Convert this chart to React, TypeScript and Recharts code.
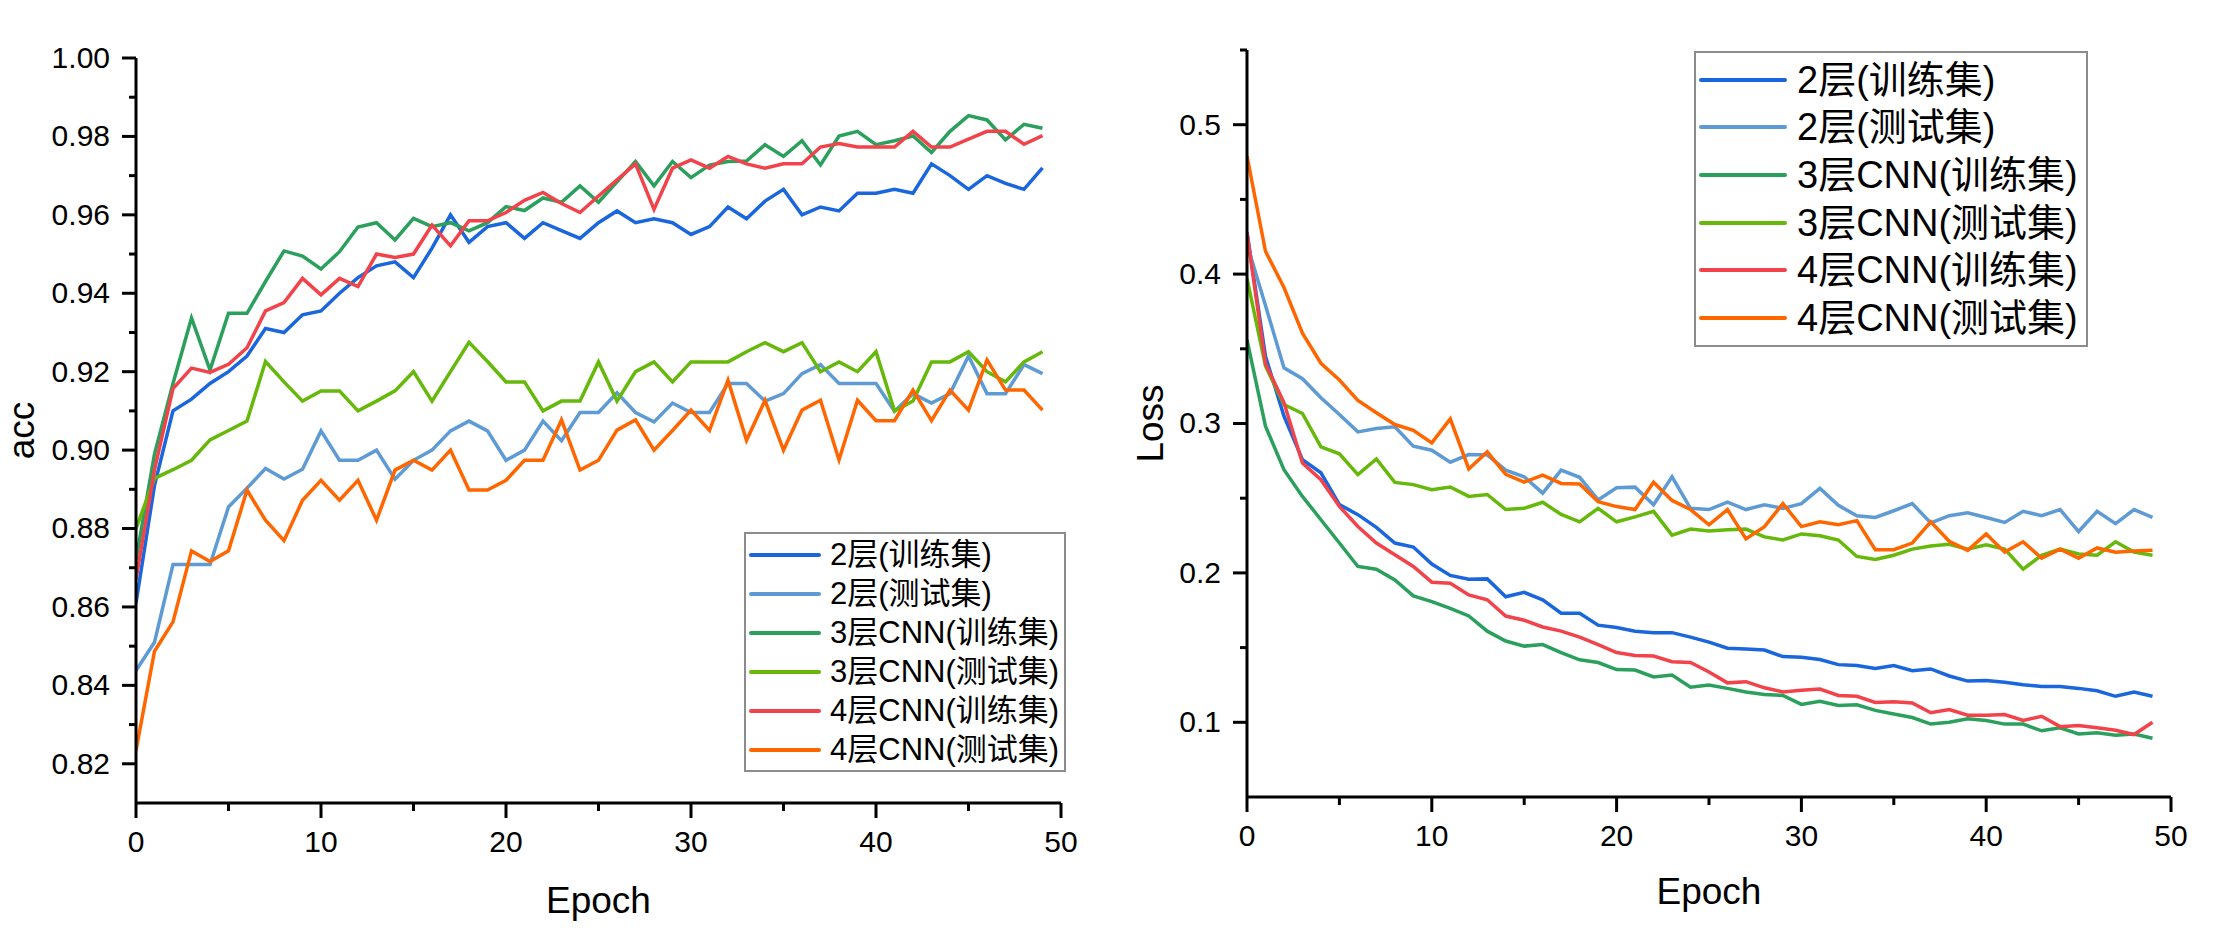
import React from "react";
import { LineChart, Line, XAxis, YAxis, Legend, Label } from "recharts";

const FONT = '"Liberation Sans", Arial, "Noto Sans CJK SC", sans-serif';

// epochs 0..49
const epochs = [
  0, 1, 2, 3, 4, 5, 6, 7, 8, 9, 10, 11, 12, 13, 14, 15, 16, 17, 18, 19, 20, 21, 22, 23, 24,
  25, 26, 27, 28, 29, 30, 31, 32, 33, 34, 35, 36, 37, 38, 39, 40, 41, 42, 43, 44, 45, 46, 47, 48, 49,
];

const seriesNames = [
  "2层(训练集)",
  "2层(测试集)",
  "3层CNN(训练集)",
  "3层CNN(测试集)",
  "4层CNN(训练集)",
  "4层CNN(测试集)",
];
const seriesKeys = ["l2train", "l2test", "c3train", "c3test", "c4train", "c4test"];
const seriesColors = ["#1a66dd", "#5e9bd4", "#2aa05c", "#66b80a", "#f2434a", "#ff6600"];

// accuracy per epoch
const acc2Train = [
  0.861, 0.891, 0.91, 0.913, 0.917, 0.92, 0.924, 0.931, 0.93, 0.9345, 0.9355, 0.94, 0.944, 0.947,
  0.948, 0.944, 0.9515, 0.96, 0.953, 0.957, 0.958, 0.954, 0.958, 0.956, 0.954, 0.958, 0.961, 0.958,
  0.959, 0.958, 0.955, 0.957, 0.962, 0.959, 0.9635, 0.9665, 0.96, 0.962, 0.961, 0.9655, 0.9655,
  0.9665, 0.9655, 0.973, 0.97, 0.9665, 0.97, 0.968, 0.9665, 0.972,
];
const acc2Test = [
  0.8438, 0.851, 0.8708, 0.8708, 0.8708, 0.8855, 0.8903, 0.8953, 0.8926, 0.8951, 0.9049, 0.8974,
  0.8974, 0.9, 0.8926, 0.8974, 0.9, 0.9049, 0.9074, 0.9049, 0.8974, 0.9, 0.9074, 0.9024, 0.9096,
  0.9096, 0.9146, 0.9096, 0.9072, 0.912, 0.9096, 0.9096, 0.917, 0.917, 0.9125, 0.9144, 0.9195,
  0.9218, 0.917, 0.917, 0.917, 0.9099, 0.9144, 0.912, 0.9144, 0.924, 0.9144, 0.9144, 0.9218, 0.9195,
];
const acc3Train = [
  0.872, 0.899, 0.917, 0.9337, 0.9204, 0.9349, 0.9349, 0.943, 0.9508, 0.9495, 0.9462, 0.9506,
  0.9569, 0.958, 0.9536, 0.9591, 0.957, 0.958, 0.9559, 0.958, 0.9621, 0.9611, 0.9643, 0.9632,
  0.9674, 0.9632, 0.9684, 0.9736, 0.9674, 0.9736, 0.9695, 0.9727, 0.9736, 0.9737, 0.9779, 0.9749,
  0.9789, 0.9727, 0.9801, 0.9813, 0.9779, 0.9789, 0.9801, 0.9759, 0.9813, 0.9853, 0.9842, 0.9791,
  0.9831, 0.9821,
];
const acc3Test = [
  0.88, 0.8928, 0.895, 0.8974, 0.9026, 0.905, 0.9074, 0.9226, 0.9174, 0.9125, 0.9151, 0.9151, 0.91,
  0.9125, 0.9151, 0.92, 0.9125, 0.92, 0.9275, 0.9226, 0.9174, 0.9174, 0.91, 0.9125, 0.9125, 0.9225,
  0.9125, 0.92, 0.9225, 0.9174, 0.9225, 0.9225, 0.9225, 0.9251, 0.9274, 0.9251, 0.9274, 0.92,
  0.9225, 0.92, 0.9251, 0.91, 0.9125, 0.9225, 0.9225, 0.9251, 0.92, 0.9174, 0.9225, 0.9251,
];
const acc4Train = [
  0.867, 0.895, 0.9157, 0.9209, 0.9198, 0.9219, 0.9261, 0.9355, 0.9376, 0.9438, 0.9396, 0.9438,
  0.9417, 0.95, 0.9491, 0.95, 0.9574, 0.9521, 0.9585, 0.9585, 0.9606, 0.9637, 0.9657, 0.9629,
  0.9606, 0.9648, 0.9689, 0.973, 0.9614, 0.9719, 0.974, 0.9719, 0.9749, 0.973, 0.9719, 0.973, 0.973,
  0.9773, 0.9782, 0.9773, 0.9773, 0.9773, 0.9813, 0.9773, 0.9773, 0.9793, 0.9813, 0.9813, 0.978,
  0.9802,
];
const acc4Test = [
  0.8234, 0.8487, 0.8562, 0.8743, 0.8716, 0.8743, 0.8898, 0.8821, 0.8769, 0.8872, 0.8923, 0.8872,
  0.8923, 0.8821, 0.8949, 0.8974, 0.8949, 0.9, 0.8898, 0.8898, 0.8923, 0.8974, 0.8974, 0.9077,
  0.8949, 0.8974, 0.9051, 0.9077, 0.9, 0.905, 0.9102, 0.905, 0.9178, 0.9025, 0.9127, 0.9, 0.9102,
  0.9127, 0.8975, 0.9127, 0.9075, 0.9075, 0.9153, 0.9075, 0.9153, 0.9102, 0.923, 0.9153, 0.9153,
  0.9102,
];

// loss per epoch
const loss2Train = [
  0.428, 0.345, 0.305, 0.2758, 0.267, 0.2457, 0.239, 0.2305, 0.22, 0.2173, 0.2059, 0.1983, 0.1958,
  0.196, 0.184, 0.187, 0.182, 0.173, 0.173, 0.165, 0.1634, 0.161, 0.16, 0.16, 0.157, 0.1537, 0.1496,
  0.149, 0.1484, 0.144, 0.1435, 0.142, 0.1386, 0.138, 0.136, 0.138, 0.1345, 0.1357, 0.131, 0.1276,
  0.128, 0.1268, 0.1252, 0.124, 0.124, 0.1227, 0.1211, 0.1174, 0.1203, 0.1174,
];
const loss2Test = [
  0.42, 0.379, 0.3373, 0.33, 0.3172, 0.306, 0.2944, 0.2966, 0.2978, 0.2848, 0.2821, 0.2741, 0.2792,
  0.279, 0.2688, 0.2643, 0.2534, 0.2688, 0.264, 0.2489, 0.257, 0.2574, 0.2456, 0.2643, 0.2432,
  0.2424, 0.2473, 0.2424, 0.2456, 0.2432, 0.2464, 0.2566, 0.2452, 0.2383, 0.2371, 0.2416, 0.2464,
  0.2334, 0.2383, 0.2403, 0.2371, 0.2338, 0.2412, 0.2383, 0.2424, 0.2277, 0.2412, 0.233, 0.2424,
  0.2371,
];
const loss3Train = [
  0.356, 0.2982, 0.2691, 0.2512, 0.2356, 0.22, 0.2043, 0.2025, 0.1953, 0.1846, 0.1808, 0.1763,
  0.1712, 0.161, 0.1544, 0.151, 0.152, 0.1467, 0.1418, 0.14, 0.1353, 0.135, 0.1304, 0.1317, 0.1235,
  0.125, 0.1227, 0.1203, 0.1186, 0.118, 0.112, 0.114, 0.1113, 0.1117, 0.108, 0.1056, 0.1032, 0.0988,
  0.1, 0.1024, 0.1012, 0.0988, 0.0988, 0.0943, 0.0963, 0.0922, 0.093, 0.0914, 0.0922, 0.0893,
];
const loss3Test = [
  0.397, 0.3385, 0.3127, 0.3067, 0.2843, 0.2797, 0.2658, 0.2763, 0.2606, 0.2591, 0.2557, 0.2575,
  0.2512, 0.2525, 0.2424, 0.2432, 0.2473, 0.2391, 0.2342, 0.2432, 0.2342, 0.2375, 0.2412, 0.2253,
  0.2293, 0.2281, 0.2289, 0.2293, 0.2241, 0.222, 0.2261, 0.2249, 0.222, 0.211, 0.209, 0.2118, 0.2159,
  0.218, 0.2192, 0.2159, 0.2188, 0.2159, 0.2025, 0.2118, 0.2159, 0.2127, 0.2118, 0.2208, 0.2139,
  0.2118,
];
const loss4Train = [
  0.4275, 0.34, 0.314, 0.2736, 0.2624, 0.2445, 0.2311, 0.22, 0.2121, 0.2043, 0.1938, 0.1931, 0.1853,
  0.182, 0.1711, 0.1683, 0.1638, 0.161, 0.157, 0.152, 0.1467, 0.1447, 0.1443, 0.1406, 0.14, 0.1337,
  0.1264, 0.1272, 0.1231, 0.1203, 0.1215, 0.1223, 0.118, 0.1174, 0.1133, 0.1137, 0.1129, 0.1064,
  0.1085, 0.1048, 0.1048, 0.1052, 0.1012, 0.104, 0.0971, 0.0979, 0.0963, 0.0947, 0.0918, 0.1,
];
const loss4Test = [
  0.479, 0.4153, 0.391, 0.3604, 0.3403, 0.3291, 0.3154, 0.3072, 0.2993, 0.2955, 0.287, 0.3031,
  0.2696, 0.281, 0.266, 0.2607, 0.2655, 0.2599, 0.2595, 0.2477, 0.2444, 0.2424, 0.2607, 0.2485,
  0.2424, 0.2322, 0.2424, 0.2228, 0.231, 0.2464, 0.231, 0.2342, 0.2322, 0.235, 0.2155, 0.2155, 0.22,
  0.2342, 0.2212, 0.2151, 0.2261, 0.2139, 0.2208, 0.2098, 0.2159, 0.2098, 0.2167, 0.2139, 0.2147,
  0.2151,
];

// axis ticks (minor ones carry no label)
const epochTicks = [0, 5, 10, 15, 20, 25, 30, 35, 40, 45, 50];
const accTicks = [
  0.82, 0.83, 0.84, 0.85, 0.86, 0.87, 0.88, 0.89, 0.9, 0.91, 0.92, 0.93, 0.94, 0.95, 0.96, 0.97,
  0.98, 0.99, 1.0,
];
const lossTicks = [0.1, 0.15, 0.2, 0.25, 0.3, 0.35, 0.4, 0.45, 0.5, 0.55];

const accSeries = [acc2Train, acc2Test, acc3Train, acc3Test, acc4Train, acc4Test];
const lossSeries = [loss2Train, loss2Test, loss3Train, loss3Test, loss4Train, loss4Test];

const toRows = (series: number[][]) =>
  epochs.map((e, i) => {
    const row: Record<string, number> = { epoch: e };
    seriesKeys.forEach((k, j) => (row[k] = series[j][i]));
    return row;
  });

const accData = toRows(accSeries);
const lossData = toRows(lossSeries);

const makeYTick = (isMajor: (v: number) => boolean, fmt: (v: number) => string) => (p: any) => {
  const v = p.payload.value;
  const major = isMajor(v);
  return (
    <g>
      <line x1={p.x} y1={p.y} x2={p.x - (major ? 14 : 7)} y2={p.y} stroke="#000" strokeWidth={3} />
      {major && (
        <text x={p.x - 26} y={p.y} dy="0.33em" textAnchor="end" fontSize={30} fontFamily={FONT} fill="#000">
          {fmt(v)}
        </text>
      )}
    </g>
  );
};

const xTick = (p: any) => {
  const v = p.payload.value;
  const major = v % 10 === 0;
  return (
    <g>
      <line x1={p.x} y1={p.y} x2={p.x} y2={p.y + (major ? 15 : 8)} stroke="#000" strokeWidth={3} />
      {major && (
        <text x={p.x} y={p.y + 49} textAnchor="middle" fontSize={30} fontFamily={FONT} fill="#000">
          {v}
        </text>
      )}
    </g>
  );
};

type BoxOpts = { width: number; fontSize: number; rowH: number; lineLen: number; gap: number; padY: number };

// legend rows keep the series order, not the default alphabetical one
const makeLegend = (o: BoxOpts) => (props: any) => {
  const items = [...(props.payload || [])].sort(
    (a: any, b: any) => seriesNames.indexOf(a.value) - seriesNames.indexOf(b.value)
  );
  return (
    <div
      style={{
        width: o.width,
        boxSizing: "border-box",
        border: "2px solid #8c8c8c",
        background: "#fff",
        padding: `${o.padY}px 0 ${o.padY}px 3px`,
        fontFamily: FONT,
      }}
    >
      {items.map((it: any) => (
        <div key={it.value} style={{ display: "flex", alignItems: "center", height: o.rowH }}>
          <span style={{ display: "inline-block", width: o.lineLen, height: 4, background: it.color, borderRadius: 2 }} />
          <span style={{ marginLeft: o.gap, fontSize: o.fontSize, lineHeight: 1, color: "#000", whiteSpace: "nowrap" }}>
            {it.value}
          </span>
        </div>
      ))}
    </div>
  );
};

const axisLine = { stroke: "#000", strokeWidth: 3 };
const titleProps = { fontSize: 37, fill: "#000", fontFamily: FONT };

function renderLines() {
  return seriesKeys.map((k, i) => (
    <Line
      key={k}
      type="linear"
      dataKey={k}
      name={seriesNames[i]}
      stroke={seriesColors[i]}
      strokeWidth={3.5}
      dot={false}
      activeDot={false}
      isAnimationActive={false}
    />
  ));
}

export default function App() {
  return (
    <div style={{ position: "absolute", left: 0, top: 0, width: 2233, height: 950, background: "#fff" }}>
      <div style={{ position: "absolute", left: 0, top: 0 }}>
        <LineChart width={1100} height={950} data={accData} margin={{ top: 58, right: 39, bottom: 0, left: 0 }}>
          <XAxis
            type="number"
            dataKey="epoch"
            domain={[0, 50]}
            ticks={epochTicks}
            interval={0}
            allowDataOverflow
            height={147}
            axisLine={axisLine}
            tickLine={false}
            tickSize={0}
            tickMargin={0}
            tick={xTick}
          >
            <Label value="Epoch" position="insideBottom" offset={37} {...titleProps} />
          </XAxis>
          <YAxis
            type="number"
            domain={[0.81, 1.0]}
            ticks={accTicks}
            interval={0}
            allowDataOverflow
            width={136}
            axisLine={axisLine}
            tickLine={false}
            tickSize={0}
            tickMargin={0}
            tick={makeYTick((v) => Math.round(v * 100) % 2 === 0, (v) => v.toFixed(2))}
          >
            <Label value="acc" angle={-90} position="center" dx={-47} {...titleProps} />
          </YAxis>
          <Legend
            layout="vertical"
            align="center"
            verticalAlign="middle"
            wrapperStyle={{ left: 744, top: 532, width: 322 }}
            content={makeLegend({ width: 322, fontSize: 31, rowH: 39, lineLen: 72, gap: 9, padY: 1 })}
          />
          {renderLines()}
        </LineChart>
      </div>
      <div style={{ position: "absolute", left: 1100, top: 0 }}>
        <LineChart width={1133} height={950} data={lossData} margin={{ top: 50, right: 62, bottom: 0, left: 0 }}>
          <XAxis
            type="number"
            dataKey="epoch"
            domain={[0, 50]}
            ticks={epochTicks}
            interval={0}
            allowDataOverflow
            height={153}
            axisLine={axisLine}
            tickLine={false}
            tickSize={0}
            tickMargin={0}
            tick={xTick}
          >
            <Label value="Epoch" position="insideBottom" offset={46} {...titleProps} />
          </XAxis>
          <YAxis
            type="number"
            domain={[0.05, 0.55]}
            ticks={lossTicks}
            interval={0}
            allowDataOverflow
            width={147}
            axisLine={axisLine}
            tickLine={false}
            tickSize={0}
            tickMargin={0}
            tick={makeYTick((v) => Math.round(v * 100) % 10 === 0, (v) => v.toFixed(1))}
          >
            <Label value="Loss" angle={-90} position="center" dx={-24} {...titleProps} />
          </YAxis>
          <Legend
            layout="vertical"
            align="center"
            verticalAlign="middle"
            wrapperStyle={{ left: 594, top: 51, width: 394 }}
            content={makeLegend({ width: 394, fontSize: 38, rowH: 47.6, lineLen: 88, gap: 10, padY: 3 })}
          />
          {renderLines()}
        </LineChart>
      </div>
    </div>
  );
}
